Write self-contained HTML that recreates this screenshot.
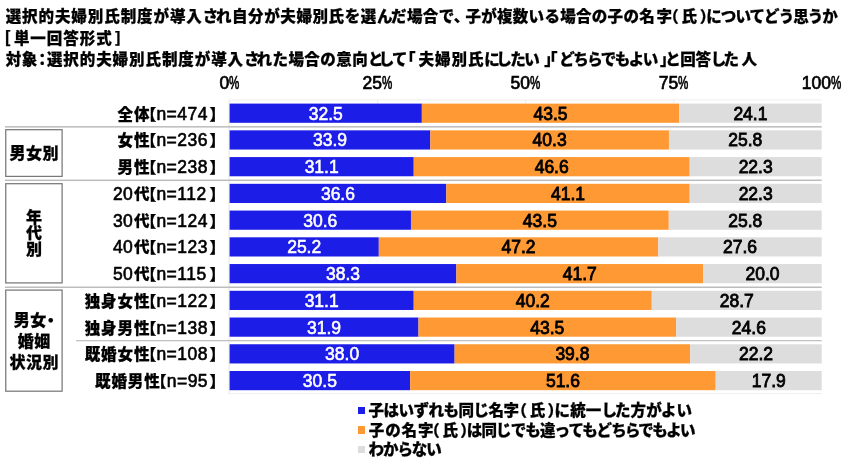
<!DOCTYPE html><html lang="ja"><head><meta charset="utf-8"><title>chart</title><style>
*{margin:0;padding:0;box-sizing:border-box}
html,body{width:860px;height:459px;background:#fff;overflow:hidden}
body{position:relative;font-family:"Liberation Sans","Noto Sans CJK JP",sans-serif;color:#000}
.j{position:absolute;white-space:nowrap;font-family:"Liberation Sans","Noto Sans CJK JP",sans-serif;font-weight:900;font-size:15.5px;line-height:20px;height:20px;-webkit-text-stroke:0.25px #000}
.j span{position:absolute;top:0;white-space:nowrap}
.ax{position:absolute;top:73px;width:60px;margin-left:-30px;text-align:center;font-size:17.5px;line-height:20px;-webkit-text-stroke:0.7px #000;white-space:nowrap}
.ax i{font-style:normal;display:inline-block;width:10.2px;transform:scaleX(.66);transform-origin:0 50%;text-align:left}
.sep{position:absolute;height:1.6px;background:#bdbdbd}
.bar{position:absolute;height:19.2px}
.v{position:absolute;width:60px;margin-left:-30px;text-align:center;font-size:17.5px;line-height:20px;-webkit-text-stroke:0.45px}
.n{position:absolute;white-space:nowrap;font-weight:normal;font-size:17.5px;line-height:20px;letter-spacing:0.5px;-webkit-text-stroke:0.6px #000}
.box{position:absolute;left:5.5px;width:57px;border:1px solid transparent;display:flex;align-items:center;justify-content:center;text-align:center;font-family:"Liberation Sans","Noto Sans CJK JP",sans-serif;font-weight:900;font-size:15.5px;line-height:20px;-webkit-text-stroke:0.25px #000;font-size:16px;letter-spacing:.5px;padding-top:2.8px;padding-left:.5px}
.sq{position:absolute;left:357.7px;width:7.4px;height:7.3px}
</style></head><body>
<div class="j" style="left:0;top:7.0px"><span style="left:5.7px;letter-spacing:0.92px">選択的夫婦別氏制度が導入さ</span><span style="left:215.9px;letter-spacing:0.60px">れ自分が夫婦別氏を選ん</span><span style="left:391.0px;letter-spacing:0.40px">だ場合で</span><span style="left:453.7px">、</span><span style="left:465.4px;letter-spacing:0.30px">子が複数いる場合の子の名</span><span style="left:656.4px">字</span><span style="left:663.3px">（</span><span style="left:681.5px">氏</span><span style="left:699.7px">）</span><span style="left:706.3px;letter-spacing:-0.94px">についてどう思うか</span></div>
<div class="j" style="left:0;top:29.0px"><span style="left:-5.0px">［</span><span style="left:13.9px;letter-spacing:0.96px">単一回答形式</span><span style="left:114.9px">］</span></div>
<div class="j" style="left:0;top:50.0px"><span style="left:5.8px;letter-spacing:0.53px">対象</span><span style="left:34.4px">：</span><span style="left:46.9px;letter-spacing:0.93px">選択的夫婦別氏制度が導入さ</span><span style="left:256.5px;letter-spacing:0.44px">れた場合の意向と</span><span style="left:378.7px;letter-spacing:-1.62px">して</span><span style="left:400.1px">「</span><span style="left:418.6px;letter-spacing:0.93px">夫婦別氏に</span><span style="left:496.2px;letter-spacing:-1.49px">したい</span><span style="left:544.3px">」</span><span style="left:541.9px">「</span><span style="left:559.2px;letter-spacing:-1.51px">どちらでもよい</span><span style="left:659.9px">」</span><span style="left:665.2px;letter-spacing:-0.35px">と回答し</span><span style="left:723.5px;letter-spacing:2.58px">た人</span></div>
<div class="ax" style="left:229.4px">0<i>%</i></div>
<div class="ax" style="left:377.4px">25<i>%</i></div>
<div class="ax" style="left:525.4px">50<i>%</i></div>
<div class="ax" style="left:673.5px">75<i>%</i></div>
<div class="ax" style="left:821.5px">100<i>%</i></div>
<svg width="860" height="459" viewBox="0 0 860 459" style="position:absolute;left:0;top:0"><rect x="229.6" y="99.43" width="592.1" height="1" fill="#eeeeee"/><rect x="229.6" y="393.07" width="592.1" height="1" fill="#eeeeee"/><rect x="228.6" y="99.83" width="1" height="294.1" fill="#e4e4e4"/><rect x="5" y="126.07" width="816.7" height="1.5" fill="#bcbcbc"/><rect x="5" y="179.55" width="816.7" height="1.5" fill="#bcbcbc"/><rect x="5" y="286.51" width="816.7" height="1.5" fill="#bcbcbc"/><rect x="76" y="339.99" width="745.7" height="1.3" fill="#c2c2c2"/><rect x="377.12" y="99.83" width="1" height="3.6" fill="#e9e9e9"/><rect x="525.15" y="99.83" width="1" height="3.6" fill="#e9e9e9"/><rect x="673.18" y="99.83" width="1" height="3.6" fill="#e9e9e9"/><rect x="229.60" y="103.60" width="192.24" height="19.2" fill="#1d1de8"/><rect x="421.84" y="103.60" width="257.31" height="19.2" fill="#ff9933"/><rect x="679.15" y="103.60" width="142.55" height="19.2" fill="#dddddd"/><rect x="229.60" y="130.34" width="200.72" height="19.2" fill="#1d1de8"/><rect x="430.32" y="130.34" width="238.62" height="19.2" fill="#ff9933"/><rect x="668.94" y="130.34" width="152.76" height="19.2" fill="#dddddd"/><rect x="229.60" y="157.08" width="184.14" height="19.2" fill="#1d1de8"/><rect x="413.74" y="157.08" width="275.92" height="19.2" fill="#ff9933"/><rect x="689.66" y="157.08" width="132.04" height="19.2" fill="#dddddd"/><rect x="229.60" y="183.82" width="216.71" height="19.2" fill="#1d1de8"/><rect x="446.31" y="183.82" width="243.35" height="19.2" fill="#ff9933"/><rect x="689.66" y="183.82" width="132.04" height="19.2" fill="#dddddd"/><rect x="229.60" y="210.56" width="181.36" height="19.2" fill="#1d1de8"/><rect x="410.96" y="210.56" width="257.82" height="19.2" fill="#ff9933"/><rect x="668.79" y="210.56" width="152.91" height="19.2" fill="#dddddd"/><rect x="229.60" y="237.30" width="149.21" height="19.2" fill="#1d1de8"/><rect x="378.81" y="237.30" width="279.47" height="19.2" fill="#ff9933"/><rect x="658.28" y="237.30" width="163.42" height="19.2" fill="#dddddd"/><rect x="229.60" y="264.04" width="226.77" height="19.2" fill="#1d1de8"/><rect x="456.37" y="264.04" width="246.91" height="19.2" fill="#ff9933"/><rect x="703.28" y="264.04" width="118.42" height="19.2" fill="#dddddd"/><rect x="229.60" y="290.78" width="184.14" height="19.2" fill="#1d1de8"/><rect x="413.74" y="290.78" width="238.02" height="19.2" fill="#ff9933"/><rect x="651.77" y="290.78" width="169.93" height="19.2" fill="#dddddd"/><rect x="229.60" y="317.52" width="188.88" height="19.2" fill="#1d1de8"/><rect x="418.48" y="317.52" width="257.56" height="19.2" fill="#ff9933"/><rect x="676.04" y="317.52" width="145.66" height="19.2" fill="#dddddd"/><rect x="229.60" y="344.26" width="225.00" height="19.2" fill="#1d1de8"/><rect x="454.60" y="344.26" width="235.66" height="19.2" fill="#ff9933"/><rect x="690.25" y="344.26" width="131.45" height="19.2" fill="#dddddd"/><rect x="229.60" y="371.00" width="180.59" height="19.2" fill="#1d1de8"/><rect x="410.19" y="371.00" width="305.52" height="19.2" fill="#ff9933"/><rect x="715.71" y="371.00" width="105.99" height="19.2" fill="#dddddd"/><rect x="5.75" y="129.7" width="56.35" height="46.70" fill="none" stroke="#787878" stroke-width="1.25"/><rect x="5.75" y="183.7" width="56.35" height="99.20" fill="none" stroke="#787878" stroke-width="1.25"/><rect x="5.75" y="290.1" width="56.35" height="101.10" fill="none" stroke="#787878" stroke-width="1.25"/></svg>
<div class="v" style="left:325.72px;top:103.70px;color:#fff;-webkit-text-stroke:0.55px #fff">32.5</div>
<div class="v" style="left:550.49px;top:103.70px;color:#000;-webkit-text-stroke:0.8px #000">43.5</div>
<div class="v" style="left:750.42px;top:103.70px;color:#000;-webkit-text-stroke:0.8px #000">24.1</div>
<div class="j" style="left:0;top:105.00px"><span style="left:117.5px;letter-spacing:0.9px">全体</span><span style="left:140.7px">【</span><span class="n" style="position:absolute;left:156.4px;top:-0.8px">n=474</span><span style="left:209.4px">】</span></div>
<div class="v" style="left:329.96px;top:130.44px;color:#fff;-webkit-text-stroke:0.55px #fff">33.9</div>
<div class="v" style="left:549.63px;top:130.44px;color:#000;-webkit-text-stroke:0.8px #000">40.3</div>
<div class="v" style="left:745.32px;top:130.44px;color:#000;-webkit-text-stroke:0.8px #000">25.8</div>
<div class="j" style="left:0;top:131.00px"><span style="left:117.5px;letter-spacing:0.9px">女性</span><span style="left:140.7px">【</span><span class="n" style="position:absolute;left:156.4px;top:-0.8px">n=236</span><span style="left:209.4px">】</span></div>
<div class="v" style="left:321.67px;top:157.18px;color:#fff;-webkit-text-stroke:0.55px #fff">31.1</div>
<div class="v" style="left:551.70px;top:157.18px;color:#000;-webkit-text-stroke:0.8px #000">46.6</div>
<div class="v" style="left:755.68px;top:157.18px;color:#000;-webkit-text-stroke:0.8px #000">22.3</div>
<div class="j" style="left:0;top:158.00px"><span style="left:117.5px;letter-spacing:0.9px">男性</span><span style="left:140.7px">【</span><span class="n" style="position:absolute;left:156.4px;top:-0.8px">n=238</span><span style="left:209.4px">】</span></div>
<div class="v" style="left:337.95px;top:183.92px;color:#fff;-webkit-text-stroke:0.55px #fff">36.6</div>
<div class="v" style="left:567.99px;top:183.92px;color:#000;-webkit-text-stroke:0.8px #000">41.1</div>
<div class="v" style="left:755.68px;top:183.92px;color:#000;-webkit-text-stroke:0.8px #000">22.3</div>
<div class="j" style="left:0;top:185.00px"><span class="n" style="position:absolute;left:113.0px;top:-0.8px;letter-spacing:0.3px">20</span><span style="left:133.9px;letter-spacing:0.9px">代</span><span style="left:140.7px">【</span><span class="n" style="position:absolute;left:156.4px;top:-0.8px">n=112</span><span style="left:209.4px">】</span></div>
<div class="v" style="left:320.28px;top:210.66px;color:#fff;-webkit-text-stroke:0.55px #fff">30.6</div>
<div class="v" style="left:539.87px;top:210.66px;color:#000;-webkit-text-stroke:0.8px #000">43.5</div>
<div class="v" style="left:745.24px;top:210.66px;color:#000;-webkit-text-stroke:0.8px #000">25.8</div>
<div class="j" style="left:0;top:212.00px"><span class="n" style="position:absolute;left:113.0px;top:-0.8px;letter-spacing:0.3px">30</span><span style="left:133.9px;letter-spacing:0.9px">代</span><span style="left:140.7px">【</span><span class="n" style="position:absolute;left:156.4px;top:-0.8px">n=124</span><span style="left:209.4px">】</span></div>
<div class="v" style="left:304.20px;top:237.40px;color:#fff;-webkit-text-stroke:0.55px #fff">25.2</div>
<div class="v" style="left:518.54px;top:237.40px;color:#000;-webkit-text-stroke:0.8px #000">47.2</div>
<div class="v" style="left:739.99px;top:237.40px;color:#000;-webkit-text-stroke:0.8px #000">27.6</div>
<div class="j" style="left:0;top:238.00px"><span class="n" style="position:absolute;left:113.0px;top:-0.8px;letter-spacing:0.3px">40</span><span style="left:133.9px;letter-spacing:0.9px">代</span><span style="left:140.7px">【</span><span class="n" style="position:absolute;left:156.4px;top:-0.8px">n=123</span><span style="left:209.4px">】</span></div>
<div class="v" style="left:342.99px;top:264.14px;color:#fff;-webkit-text-stroke:0.55px #fff">38.3</div>
<div class="v" style="left:579.83px;top:264.14px;color:#000;-webkit-text-stroke:0.8px #000">41.7</div>
<div class="v" style="left:762.49px;top:264.14px;color:#000;-webkit-text-stroke:0.8px #000">20.0</div>
<div class="j" style="left:0;top:265.00px"><span class="n" style="position:absolute;left:113.0px;top:-0.8px;letter-spacing:0.3px">50</span><span style="left:133.9px;letter-spacing:0.9px">代</span><span style="left:140.7px">【</span><span class="n" style="position:absolute;left:156.4px;top:-0.8px">n=115</span><span style="left:209.4px">】</span></div>
<div class="v" style="left:321.67px;top:290.88px;color:#fff;-webkit-text-stroke:0.55px #fff">31.1</div>
<div class="v" style="left:532.76px;top:290.88px;color:#000;-webkit-text-stroke:0.8px #000">40.2</div>
<div class="v" style="left:736.73px;top:290.88px;color:#000;-webkit-text-stroke:0.8px #000">28.7</div>
<div class="j" style="left:0;top:292.00px"><span style="left:84.7px;letter-spacing:0.9px">独身女性</span><span style="left:140.7px">【</span><span class="n" style="position:absolute;left:156.4px;top:-0.8px">n=122</span><span style="left:209.4px">】</span></div>
<div class="v" style="left:324.04px;top:317.62px;color:#fff;-webkit-text-stroke:0.55px #fff">31.9</div>
<div class="v" style="left:547.26px;top:317.62px;color:#000;-webkit-text-stroke:0.8px #000">43.5</div>
<div class="v" style="left:748.87px;top:317.62px;color:#000;-webkit-text-stroke:0.8px #000">24.6</div>
<div class="j" style="left:0;top:319.00px"><span style="left:84.7px;letter-spacing:0.9px">独身男性</span><span style="left:140.7px">【</span><span class="n" style="position:absolute;left:156.4px;top:-0.8px">n=138</span><span style="left:209.4px">】</span></div>
<div class="v" style="left:342.10px;top:344.36px;color:#fff;-webkit-text-stroke:0.55px #fff">38.0</div>
<div class="v" style="left:572.43px;top:344.36px;color:#000;-webkit-text-stroke:0.8px #000">39.8</div>
<div class="v" style="left:755.98px;top:344.36px;color:#000;-webkit-text-stroke:0.8px #000">22.2</div>
<div class="j" style="left:0;top:345.00px"><span style="left:84.7px;letter-spacing:0.9px">既婚女性</span><span style="left:140.7px">【</span><span class="n" style="position:absolute;left:156.4px;top:-0.8px">n=108</span><span style="left:209.4px">】</span></div>
<div class="v" style="left:319.90px;top:371.10px;color:#fff;-webkit-text-stroke:0.55px #fff">30.5</div>
<div class="v" style="left:562.95px;top:371.10px;color:#000;-webkit-text-stroke:0.8px #000">51.6</div>
<div class="v" style="left:768.71px;top:371.10px;color:#000;-webkit-text-stroke:0.8px #000">17.9</div>
<div class="j" style="left:0;top:372.00px"><span style="left:95.0px;letter-spacing:0.9px">既婚男性</span><span style="left:151.0px">【</span><span class="n" style="position:absolute;left:166.7px;top:-0.8px">n=95</span><span style="left:209.4px">】</span></div>
<div class="box" style="top:129px;height:48px">男女別</div>
<div class="box" style="top:183.3px;height:99.5px;line-height:16px"><span>年<br>代<br>別</span></div>
<div class="box" style="top:290px;height:100.5px;line-height:21.1px"><span>男女<i style="font-style:normal;display:inline-block;width:8px;text-indent:-4px;letter-spacing:0">・</i><br>婚姻<br>状況別</span></div>
<div class="sq" style="top:407.0px;background:#1d1de8"></div>
<div class="j" style="left:0;top:401.0px"><span style="left:368.5px;letter-spacing:-0.51px">子はいずれも同じ名字</span><span style="left:511.4px">（</span><span style="left:529.7px">氏</span><span style="left:547.6px">）</span><span style="left:554.5px;letter-spacing:0.13px">に統一し</span><span style="left:615.0px;letter-spacing:0.07px">た方がよい</span></div>
<div class="sq" style="top:426.3px;background:#ff9933"></div>
<div class="j" style="left:0;top:421.0px"><span style="left:368.8px;letter-spacing:0.89px">子の名字</span><span style="left:424.3px">（</span><span style="left:442.6px">氏</span><span style="left:460.2px">）</span><span style="left:466.8px;letter-spacing:-0.87px">は同じでも違ってもどち</span><span style="left:624.9px;letter-spacing:-1.59px">らでもよい</span></div>
<div class="sq" style="top:445.6px;background:#dddddd"></div>
<div class="j" style="left:0;top:440.0px"><span style="left:368.6px;letter-spacing:-1.08px">わからない</span></div>
</body></html>
